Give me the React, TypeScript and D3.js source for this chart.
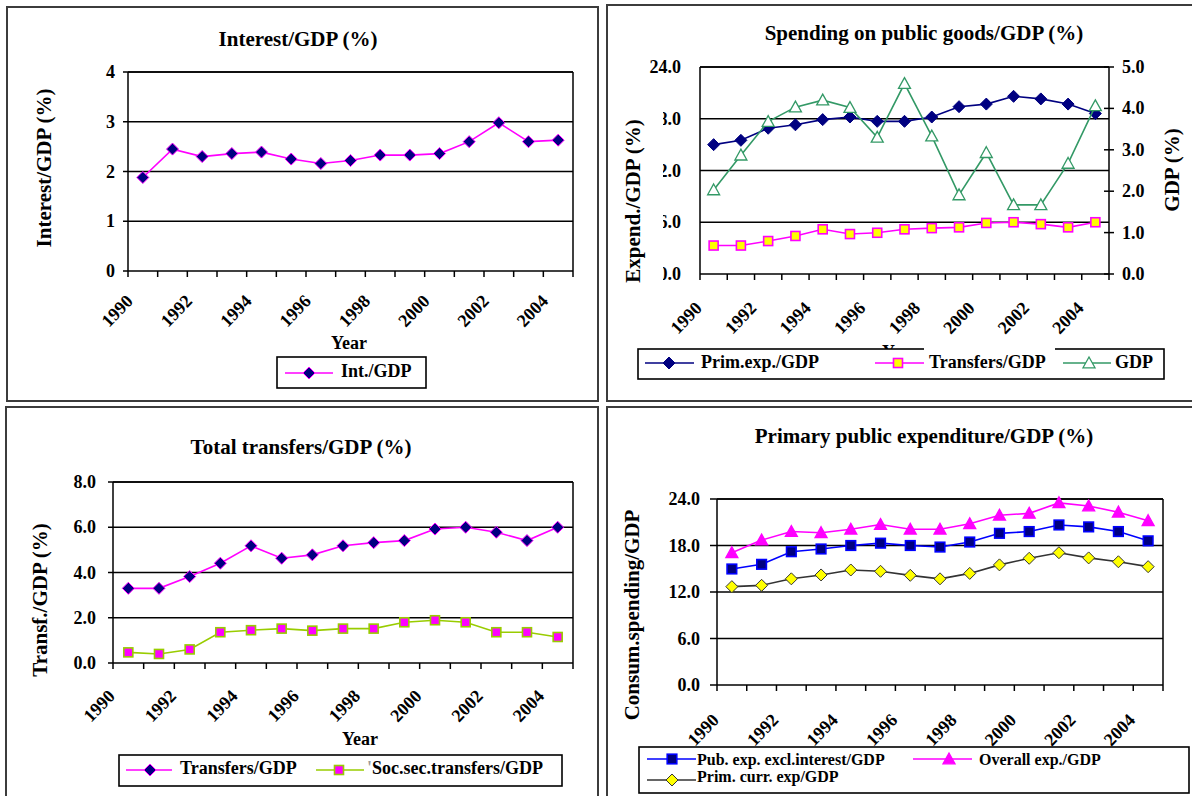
import React from 'react';
import * as d3 from 'd3';

// Categories (years) shared by all four panels
const years = ['1990', '1991', '1992', '1993', '1994', '1995', '1996', '1997', '1998', '1999', '2000', '2001', '2002', '2003', '2004'];

// Interest/GDP (%)
const interestGdp = [1.88, 2.45, 2.3, 2.36, 2.39, 2.25, 2.16, 2.22, 2.33, 2.33, 2.36, 2.6, 2.98, 2.6, 2.63];

// Spending on public goods/GDP (%)
const primExpGdp = [15.0, 15.5, 16.9, 17.3, 17.9, 18.2, 17.7, 17.7, 18.2, 19.4, 19.7, 20.6, 20.3, 19.7, 18.6];
const gdpGrowth = [2.03, 2.87, 3.68, 4.03, 4.2, 4.02, 3.3, 4.6, 3.33, 1.91, 2.93, 1.67, 1.67, 2.67, 4.06];

// Total transfers/GDP (%)
const transfersGdp = [3.3, 3.3, 3.82, 4.41, 5.18, 4.63, 4.78, 5.18, 5.32, 5.41, 5.92, 6.0, 5.78, 5.41, 6.0];
const socSecGdp = [0.47, 0.4, 0.6, 1.36, 1.45, 1.52, 1.43, 1.52, 1.52, 1.8, 1.89, 1.8, 1.36, 1.36, 1.15];

// Primary public expenditure/GDP (%)
const pubExpExclInt = [14.97, 15.57, 17.2, 17.55, 18.0, 18.3, 18.0, 17.8, 18.45, 19.57, 19.8, 20.65, 20.4, 19.8, 18.6];
const overallExp = [17.07, 18.7, 19.8, 19.65, 20.1, 20.7, 20.1, 20.1, 20.8, 21.9, 22.15, 23.5, 23.1, 22.3, 21.2];
const primCurrExp = [12.69, 12.86, 13.7, 14.2, 14.84, 14.67, 14.15, 13.7, 14.4, 15.5, 16.35, 17.07, 16.4, 15.9, 15.27];

// Axis tick values
const interestTicks = [0, 1, 2, 3, 4];
const expendTicks = [0, 6, 12, 18, 24];
const gdpTicks = [0, 1, 2, 3, 4, 5];
const transfTicks = [0, 2, 4, 6, 8];
const consumTicks = [0, 6, 12, 18, 24];

const FONT = '"Liberation Serif", "Times New Roman", Times, serif';

type MarkerType = 'diamond' | 'square' | 'triangle';

interface SeriesSpec {
  name: string;
  values: number[];
  axis: 'left' | 'right';
  color: string;
  marker: MarkerType;
  fill: string;
  stroke: string;
  size: number;
}

function Marker({ type, x, y, s, fill, stroke }: { type: MarkerType; x: number; y: number; s: number; fill: string; stroke: string }) {
  if (type === 'diamond') {
    return <polygon points={`${x},${y - s} ${x + s},${y} ${x},${y + s} ${x - s},${y}`} fill={fill} stroke={stroke} strokeWidth={1} />;
  }
  if (type === 'square') {
    return <rect x={x - s} y={y - s} width={2 * s} height={2 * s} fill={fill} stroke={stroke} strokeWidth={1.6} />;
  }
  return <polygon points={`${x},${y - s} ${x + s},${y + s * 0.8} ${x - s},${y + s * 0.8}`} fill={fill} stroke={stroke} strokeWidth={1.3} />;
}

interface LegendItem { series: number; x1: number; x2: number; mx: number; ly: number; tx: number; ty: number; label: string; lead?: string }

interface PanelCfg {
  frame: [number, number, number, number];
  title: { text: string; x: number; y: number };
  plot: { left: number; right: number; top: number; bottom: number };
  yMax: number;
  yTicks: number[];
  yFmt: (v: number) => string;
  yLabelX: number;
  yTickLen: number;
  yTitle: { text: string; x: number; y: number };
  y2?: { max: number; ticks: number[]; labelX: number; title: { text: string; x: number; y: number } };
  clipLeftLabels?: number;
  xLabelDx: number;
  xLabelDy: number;
  yearLabel?: { x: number; y: number };
  series: SeriesSpec[];
  legend: { box: [number, number, number, number]; fontSize: number; items: LegendItem[]; gaps?: [number, number, number, number][] };
  id: string;
}

function Panel({ cfg }: { cfg: PanelCfg }) {
  const { plot } = cfg;
  const x = d3.scaleBand<string>().domain(years).range([plot.left, plot.right]).padding(0);
  const bw = x.bandwidth();
  const cx = (i: number) => (x(years[i]) as number) + bw / 2;
  const yL = d3.scaleLinear().domain([0, cfg.yMax]).range([plot.bottom, plot.top]);
  const yR = cfg.y2 ? d3.scaleLinear().domain([0, cfg.y2.max]).range([plot.bottom, plot.top]) : yL;
  const bounds = d3.range(years.length + 1).map((i) => plot.left + i * bw);
  const tickFont = 18;

  return (
    <g>
      <rect x={cfg.frame[0]} y={cfg.frame[1]} width={cfg.frame[2]} height={cfg.frame[3]} fill="none" stroke="#3c3c3c" strokeWidth={2} />
      <text x={cfg.title.x} y={cfg.title.y} textAnchor="middle" dominantBaseline="central" fontSize={21}>{cfg.title.text}</text>

      {/* gridlines and plot frame */}
      {cfg.yTicks.slice(1).map((t) => (
        <line key={`g${t}`} x1={plot.left} x2={plot.right} y1={yL(t)} y2={yL(t)} stroke="#000" strokeWidth={1.5} />
      ))}
      <line x1={plot.left} x2={plot.right} y1={plot.top} y2={plot.top} stroke="#000" strokeWidth={1.5} />
      <line x1={plot.right} x2={plot.right} y1={plot.top} y2={plot.bottom} stroke="#000" strokeWidth={1.5} />
      <line x1={plot.left} x2={plot.left} y1={plot.top} y2={plot.bottom} stroke="#000" strokeWidth={1.5} />
      <line x1={plot.left} x2={plot.right} y1={plot.bottom} y2={plot.bottom} stroke="#000" strokeWidth={1.5} />

      {/* left axis ticks and labels */}
      {cfg.clipLeftLabels !== undefined && (
        <clipPath id={`${cfg.id}-clip`}>
          <rect x={cfg.clipLeftLabels} y={0} width={200} height={800} />
        </clipPath>
      )}
      {cfg.yTicks.map((t, i) => (
        <g key={`yl${t}`}>
          {cfg.yTickLen > 0 && <line x1={plot.left - cfg.yTickLen} x2={plot.left} y1={yL(t)} y2={yL(t)} stroke="#000" strokeWidth={1.5} />}
          <text
            x={cfg.yLabelX}
            y={yL(t)}
            textAnchor="end"
            dominantBaseline="central"
            fontSize={tickFont}
            clipPath={cfg.clipLeftLabels !== undefined && i < cfg.yTicks.length - 1 ? `url(#${cfg.id}-clip)` : undefined}
          >
            {cfg.yFmt(t)}
          </text>
        </g>
      ))}
      <text transform={`translate(${cfg.yTitle.x},${cfg.yTitle.y}) rotate(-90)`} textAnchor="middle" dominantBaseline="central" fontSize={21}>
        {cfg.yTitle.text}
      </text>

      {/* right axis */}
      {cfg.y2 && (
        <g>
          {cfg.y2.ticks.map((t) => (
            <g key={`yr${t}`}>
              <line x1={plot.right - 5} x2={plot.right + 5} y1={yR(t)} y2={yR(t)} stroke="#000" strokeWidth={1.5} />
              <text x={cfg.y2!.labelX} y={yR(t)} dominantBaseline="central" fontSize={tickFont}>{d3.format('.1f')(t)}</text>
            </g>
          ))}
          <text transform={`translate(${cfg.y2.title.x},${cfg.y2.title.y}) rotate(-90)`} textAnchor="middle" dominantBaseline="central" fontSize={21}>
            {cfg.y2.title.text}
          </text>
        </g>
      )}

      {/* category axis ticks and rotated year labels */}
      {bounds.map((b, i) => (
        <line key={`xt${i}`} x1={b} x2={b} y1={plot.bottom} y2={plot.bottom + 6} stroke="#000" strokeWidth={1.5} />
      ))}
      {cfg.yearLabel && (
        <text x={cfg.yearLabel.x} y={cfg.yearLabel.y} textAnchor="middle" dominantBaseline="central" fontSize={18}>Year</text>
      )}
      {years.map((yr, i) =>
        i % 2 === 0 ? (
          <text
            key={`xl${yr}`}
            transform={`translate(${(x(yr) as number) + cfg.xLabelDx},${plot.bottom + cfg.xLabelDy}) rotate(-46)`}
            textAnchor="end"
            fontSize={tickFont}
          >
            {yr}
          </text>
        ) : null
      )}

      {/* series */}
      {cfg.series.map((s, si) => {
        const sc = s.axis === 'left' ? yL : yR;
        const path = d3.line<number>().x((_, i) => cx(i)).y((v) => sc(v))(s.values) || '';
        return (
          <g key={`s${si}`}>
            <path d={path} fill="none" stroke={s.color} strokeWidth={1.6} />
            {s.values.map((v, i) => (
              <Marker key={i} type={s.marker} x={cx(i)} y={sc(v)} s={s.size} fill={s.fill} stroke={s.stroke} />
            ))}
          </g>
        );
      })}

      {/* legend */}
      <rect
        x={cfg.legend.box[0]}
        y={cfg.legend.box[1]}
        width={cfg.legend.box[2] - cfg.legend.box[0]}
        height={cfg.legend.box[3] - cfg.legend.box[1]}
        fill="#fff"
        stroke="#000"
        strokeWidth={1.6}
      />
      {(cfg.legend.gaps || []).map((g, i) => (
        <rect key={`gap${i}`} x={g[0]} y={g[1]} width={g[2]} height={g[3]} fill="#fff" />
      ))}
      {cfg.legend.items.map((it, i) => {
        const s = cfg.series[it.series];
        return (
          <g key={`li${i}`}>
            <line x1={it.x1} x2={it.x2} y1={it.ly} y2={it.ly} stroke={s.color} strokeWidth={1.6} />
            <Marker type={s.marker} x={it.mx} y={it.ly} s={s.size} fill={s.fill} stroke={s.stroke} />
            <text x={it.tx} y={it.ty} dominantBaseline="central" fontSize={cfg.legend.fontSize}>
              {it.lead && <tspan fill="#999">{it.lead}</tspan>}
              {it.label}
            </text>
          </g>
        );
      })}
    </g>
  );
}

const fmt1 = d3.format('.1f');
const fmtInt = d3.format('d');

const interestPanel: PanelCfg = {
  id: 'p1',
  frame: [7, 7, 591, 394],
  title: { text: 'Interest/GDP (%)', x: 298, y: 39 },
  plot: { left: 128, right: 573, top: 72, bottom: 271 },
  yMax: 4,
  yTicks: interestTicks,
  yFmt: fmtInt,
  yLabelX: 115,
  yTickLen: 5,
  yTitle: { text: 'Interest/GDP (%)', x: 44, y: 168 },
  xLabelDx: 6,
  xLabelDy: 31,
  yearLabel: { x: 349, y: 343 },
  series: [
    { name: 'Int./GDP', values: interestGdp, axis: 'left', color: '#ff00ff', marker: 'diamond', fill: '#000080', stroke: '#ff00ff', size: 6 },
  ],
  legend: {
    box: [277, 357, 426, 388],
    fontSize: 18,
    items: [{ series: 0, x1: 285, x2: 333, mx: 309, ly: 373, tx: 341, ty: 371, label: 'Int./GDP' }],
  },
};

const spendingPanel: PanelCfg = {
  id: 'p2',
  frame: [607, 5, 600, 396],
  title: { text: 'Spending on public goods/GDP (%)', x: 924, y: 33 },
  plot: { left: 700, right: 1109, top: 67, bottom: 274 },
  yMax: 24,
  yTicks: expendTicks,
  yFmt: fmt1,
  yLabelX: 681,
  yTickLen: 0,
  clipLeftLabels: 663,
  yTitle: { text: 'Expend./GDP (%)', x: 633, y: 201 },
  y2: { max: 5, ticks: gdpTicks, labelX: 1122, title: { text: 'GDP (%)', x: 1172, y: 170 } },
  xLabelDx: 3,
  xLabelDy: 35,
  yearLabel: { x: 900, y: 352 },
  series: [
    { name: 'Prim.exp./GDP', values: primExpGdp, axis: 'left', color: '#000080', marker: 'diamond', fill: '#000080', stroke: '#000080', size: 6 },
    { name: 'Transfers/GDP', values: transfersGdp, axis: 'left', color: '#ff00ff', marker: 'square', fill: '#ffff00', stroke: '#ff00ff', size: 4.5 },
    { name: 'GDP', values: gdpGrowth, axis: 'right', color: '#339966', marker: 'triangle', fill: '#ffffff', stroke: '#339966', size: 6 },
  ],
  legend: {
    box: [638, 349, 1164, 379],
    fontSize: 18,
    gaps: [[924, 347, 131, 4]],
    items: [
      { series: 0, x1: 645, x2: 694, mx: 669, ly: 363, tx: 701, ty: 362, label: 'Prim.exp./GDP' },
      { series: 1, x1: 875, x2: 924, mx: 898, ly: 363, tx: 929, ty: 362, label: 'Transfers/GDP' },
      { series: 2, x1: 1063, x2: 1111, mx: 1089, ly: 363, tx: 1115, ty: 362, label: 'GDP' },
    ],
  },
};

const transfersPanel: PanelCfg = {
  id: 'p3',
  frame: [6, 407, 592, 400],
  title: { text: 'Total transfers/GDP (%)', x: 301, y: 447 },
  plot: { left: 113, right: 573, top: 482, bottom: 663 },
  yMax: 8,
  yTicks: transfTicks,
  yFmt: fmt1,
  yLabelX: 96,
  yTickLen: 5,
  yTitle: { text: 'Transf./GDP (%)', x: 40, y: 600 },
  xLabelDx: 3,
  xLabelDy: 34,
  yearLabel: { x: 360, y: 739 },
  series: [
    { name: 'Transfers/GDP', values: transfersGdp, axis: 'left', color: '#ff00ff', marker: 'diamond', fill: '#000080', stroke: '#ff00ff', size: 6 },
    { name: 'Soc.sec.transfers/GDP', values: socSecGdp, axis: 'left', color: '#99cc00', marker: 'square', fill: '#ff00ff', stroke: '#99cc00', size: 4.5 },
  ],
  legend: {
    box: [119, 755, 562, 786],
    fontSize: 18,
    items: [
      { series: 0, x1: 126, x2: 172, mx: 150, ly: 770, tx: 180, ty: 768, label: 'Transfers/GDP' },
      { series: 1, x1: 316, x2: 364, mx: 339, ly: 770, tx: 367, ty: 768, label: 'Soc.sec.transfers/GDP', lead: "'" },
    ],
  },
};

const primaryPanel: PanelCfg = {
  id: 'p4',
  frame: [607, 407, 600, 400],
  title: { text: 'Primary public expenditure/GDP (%)', x: 924, y: 436 },
  plot: { left: 717, right: 1163, top: 499, bottom: 685 },
  yMax: 24,
  yTicks: consumTicks,
  yFmt: fmt1,
  yLabelX: 700,
  yTickLen: 7,
  yTitle: { text: 'Consum.spending/GDP', x: 632, y: 615 },
  xLabelDx: 3,
  xLabelDy: 36,
  series: [
    { name: 'Pub. exp. excl.interest/GDP', values: pubExpExclInt, axis: 'left', color: '#0000ff', marker: 'square', fill: '#000080', stroke: '#0000ff', size: 4.8 },
    { name: 'Overall exp./GDP', values: overallExp, axis: 'left', color: '#ff00ff', marker: 'triangle', fill: '#ff00ff', stroke: '#ff00ff', size: 6 },
    { name: 'Prim. curr. exp/GDP', values: primCurrExp, axis: 'left', color: '#333333', marker: 'diamond', fill: '#ffff00', stroke: '#333333', size: 6 },
  ],
  legend: {
    box: [639, 747, 1189, 793],
    fontSize: 16,
    items: [
      { series: 0, x1: 647, x2: 696, mx: 672, ly: 759, tx: 697, ty: 759, label: 'Pub. exp. excl.interest/GDP' },
      { series: 1, x1: 913, x2: 972, mx: 949, ly: 759, tx: 979, ty: 759, label: 'Overall exp./GDP' },
      { series: 2, x1: 647, x2: 696, mx: 672, ly: 780, tx: 697, ty: 776, label: 'Prim. curr. exp/GDP' },
    ],
  },
};

export default function App() {
  return (
    <svg
      width={1192}
      height={796}
      style={{ position: 'absolute', left: 0, top: 0, background: '#fff' }}
      fontFamily={FONT}
      fontWeight="bold"
    >
      <rect x={0} y={0} width={1192} height={796} fill="#fff" />
      <Panel cfg={interestPanel} />
      <Panel cfg={spendingPanel} />
      <Panel cfg={transfersPanel} />
      <Panel cfg={primaryPanel} />
    </svg>
  );
}
